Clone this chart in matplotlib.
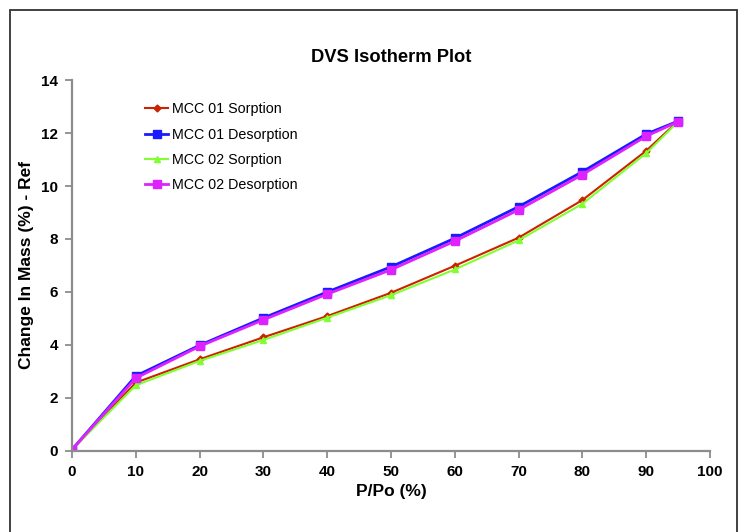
import matplotlib
matplotlib.use("Agg")
from matplotlib import pyplot as plt
from matplotlib.patches import Rectangle

# данные изотермы
rh = [0, 10, 20, 30, 40, 50, 60, 70, 80, 90, 95]
mcc01_sorption = [0.05, 2.58, 3.46, 4.29, 5.09, 5.97, 6.99, 8.05, 9.47, 11.33, 12.45]
mcc01_desorption = [0.05, 2.83, 3.99, 5.02, 6.0, 6.95, 8.03, 9.22, 10.54, 11.96, 12.45]
mcc02_sorption = [0.05, 2.48, 3.40, 4.19, 5.03, 5.88, 6.85, 7.95, 9.33, 11.24, 12.43]
mcc02_desorption = [0.05, 2.75, 3.95, 4.95, 5.92, 6.84, 7.92, 9.1, 10.43, 11.88, 12.43]

plt.rcParams['font.family'] = ['Liberation Sans', 'DejaVu Sans']

fig = plt.figure(figsize=(7.4, 5.32), dpi=100)
ax = fig.add_axes([0.0973, 0.1523, 0.8622, 0.6973])

ax.plot(rh, mcc01_sorption, color='#cc2200', marker='D', markersize=3.5, lw=1.5, label='MCC 01 Sorption')
ax.plot(rh, mcc01_desorption, color='#1a1aff', marker='s', markersize=5.5, lw=2.0, label='MCC 01 Desorption')
ax.plot(rh, mcc02_sorption, color='#80ff33', marker='^', markersize=5, lw=1.5, label='MCC 02 Sorption')
ax.plot(rh, mcc02_desorption, color='#dd22ff', marker='s', markersize=5.5, lw=2.0, label='MCC 02 Desorption')

ax.set_xlim(0, 100)
ax.set_ylim(0, 14)
ax.set_xticks(range(0, 101, 10))
ax.set_yticks(range(0, 15, 2))

for s in ['top', 'right']:
    ax.spines[s].set_visible(False)
for s in ['left', 'bottom']:
    ax.spines[s].set_color('#8c8c8c')
    ax.spines[s].set_linewidth(1.6)
ax.tick_params(direction='out', length=5, width=1.3, color='#8c8c8c', labelsize=11, pad=5)
for lab in ax.get_xticklabels() + ax.get_yticklabels():
    lab.set_fontweight('bold')

ax.set_xlabel('P/Po (%)', fontsize=12.5, fontweight='bold', labelpad=4)
ax.set_ylabel('Change In Mass (%) - Ref', fontsize=12.5, fontweight='bold', labelpad=5)
ax.set_title('DVS Isotherm Plot', fontsize=13.2, fontweight='bold', pad=13)

ax.legend(loc='upper left', bbox_to_anchor=(0.095, 0.975), frameon=False, fontsize=10.3,
          handlelength=1.6, labelspacing=0.8, handletextpad=0.25)

# рамка вокруг картинки
fig.patches.append(Rectangle((10 / 740, -0.05), 727 / 740, 1.05 - 10 / 532, transform=fig.transFigure,
                             fill=False, edgecolor='#333333', lw=1.3))

fig.savefig('out.png', dpi=100)
